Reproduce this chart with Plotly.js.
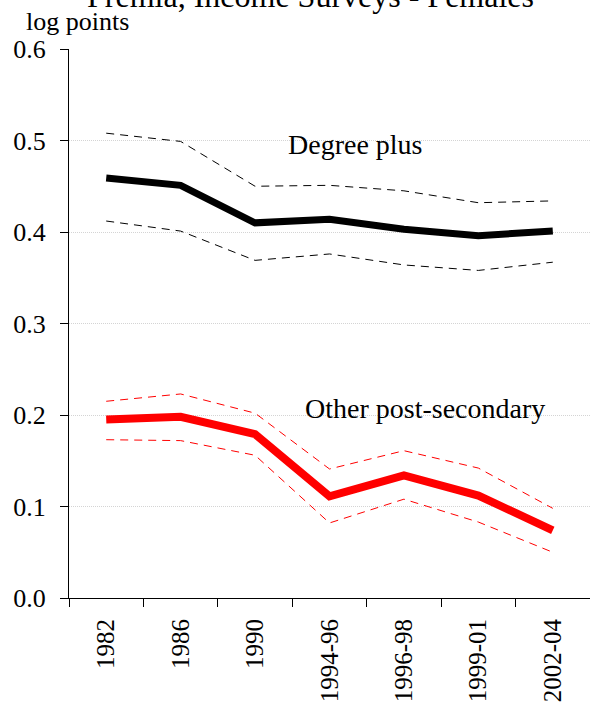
<!DOCTYPE html>
<html>
<head>
<meta charset="utf-8">
<script src="https://cdn.plot.ly/plotly-3.0.1.min.js"></script>
<style>html,body{margin:0;padding:0;background:#fff;}#chart{width:590px;height:708px;}</style>
</head>
<body>
<div id="chart"></div>
<script>
const periods = ["1982", "1986", "1990", "1994-96", "1996-98", "1999-01", "2002-04"];
const degree = [0.459, 0.451, 0.410, 0.414, 0.403, 0.396, 0.401];
const degreeUpper = [0.508, 0.499, 0.450, 0.451, 0.445, 0.432, 0.434];
const degreeLower = [0.412, 0.401, 0.369, 0.376, 0.364, 0.358, 0.367];
const otherPS = [0.195, 0.198, 0.179, 0.111, 0.134, 0.112, 0.074];
const otherPSUpper = [0.215, 0.223, 0.202, 0.141, 0.161, 0.142, 0.098];
const otherPSLower = [0.173, 0.172, 0.156, 0.082, 0.108, 0.083, 0.050];
const yTicks = [0, 0.1, 0.2, 0.3, 0.4, 0.5, 0.6];

const serif = "Liberation Serif";
const dashed = (y, color) => ({x: periods, y: y, type: "scatter", mode: "lines",
  line: {color: color, width: 1, dash: "8px,6px"}, hoverinfo: "skip", showlegend: false});

const data = [
  dashed(degreeUpper, "#000"),
  dashed(degreeLower, "#000"),
  {x: periods, y: degree, type: "scatter", mode: "lines", line: {color: "#000", width: 7}, showlegend: false},
  dashed(otherPSUpper, "#ff0000"),
  dashed(otherPSLower, "#ff0000"),
  {x: periods, y: otherPS, type: "scatter", mode: "lines", line: {color: "#ff0000", width: 8}, showlegend: false}
];

const layout = {
  width: 590, height: 708,
  margin: {l: 69, r: 0, t: 49, b: 110, pad: 0},
  paper_bgcolor: "#fff", plot_bgcolor: "#fff",
  font: {family: serif, color: "#000", size: 26},
  showlegend: false,
  xaxis: {
    type: "category", range: [-0.5, 6.5], tickson: "boundaries",
    showgrid: false, zeroline: false,
    showline: true, linecolor: "#000", linewidth: 1,
    ticks: "outside", ticklen: 8, tickcolor: "#000", tickwidth: 1,
    tickangle: -90, tickfont: {family: serif, size: 25, color: "#000"},
    ticklabelstandoff: 10
  },
  yaxis: {
    range: [0, 0.6], tickvals: yTicks, tickformat: ".1f",
    showgrid: true, gridcolor: "#d4d4d4", griddash: "1px,1px", gridwidth: 1,
    zeroline: false, showline: true, linecolor: "#000", linewidth: 1,
    ticks: "outside", ticklen: 8, tickcolor: "#000", tickwidth: 1,
    tickfont: {family: serif, size: 26, color: "#000"},
    ticklabelstandoff: 9
  },
  annotations: [
    {text: "Premia, Income Surveys - Females", xref: "paper", yref: "paper", x: 0.463, y: 1.096,
     xanchor: "center", yanchor: "middle", showarrow: false, font: {family: serif, size: 32, color: "#000"}},
    {text: "log points", xref: "paper", yref: "paper", x: -0.086, y: 1.051,
     xanchor: "left", yanchor: "middle", showarrow: false, font: {family: serif, size: 26, color: "#000"}},
    {text: "Degree plus", xref: "paper", yref: "y", x: 0.549, y: 0.496,
     xanchor: "center", yanchor: "middle", showarrow: false, font: {family: serif, size: 28, color: "#000"}},
    {text: "Other post-secondary", xref: "paper", yref: "y", x: 0.683, y: 0.2066,
     xanchor: "center", yanchor: "middle", showarrow: false, font: {family: serif, size: 28, color: "#000"}}
  ]
};

Plotly.newPlot("chart", data, layout, {staticPlot: true, displayModeBar: false});
</script>
</body>
</html>
